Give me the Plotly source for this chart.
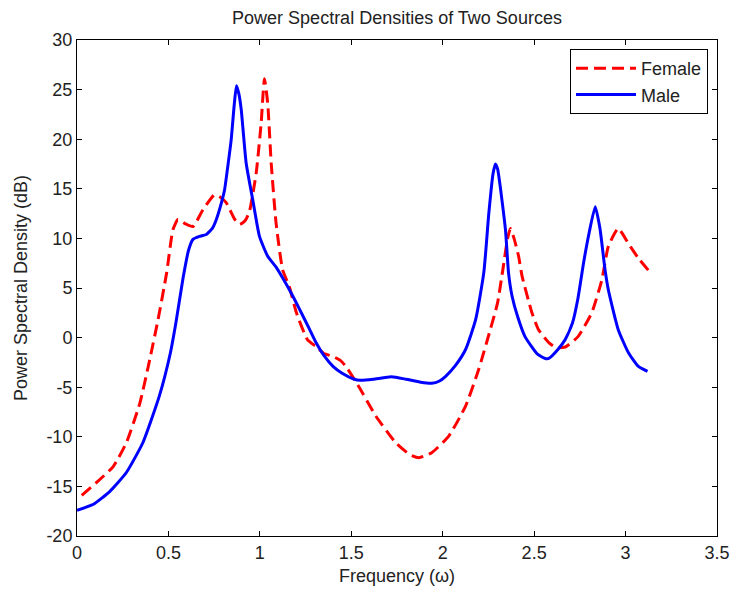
import plotly.graph_objects as go

# ---- data ----
male_freq = [0.00, 0.09, 0.18, 0.27, 0.36, 0.45, 0.51, 0.54, 0.58, 0.61, 0.634, 0.67, 0.707, 0.74, 0.76,
             0.79, 0.807, 0.825, 0.843, 0.86, 0.872, 0.885, 0.898, 0.925, 0.961, 0.998, 1.043, 1.089,
             1.125, 1.18, 1.216, 1.27, 1.307, 1.35, 1.40, 1.45, 1.516, 1.55, 1.62, 1.72, 1.80, 1.88,
             1.94, 1.98, 2.016, 2.07, 2.125, 2.18, 2.225, 2.252, 2.275, 2.288, 2.30, 2.343, 2.36, 2.379,
             2.41, 2.45, 2.52, 2.56, 2.58, 2.63, 2.67, 2.71, 2.74, 2.77, 2.80, 2.834, 2.86, 2.888, 2.906,
             2.96, 3.015, 3.07, 3.12]
male_psd = [-17.4, -16.8, -15.5, -13.6, -10.6, -5.9, -1.6, 1.4, 6.0, 8.8, 9.9, 10.2, 10.4, 11.0, 11.8,
            13.6, 14.9, 17.3, 19.9, 23.5, 25.4, 24.6, 23.0, 17.6, 13.9, 10.2, 8.2, 7.1,
            6.0, 4.2, 2.9, 0.9, -0.5, -1.8, -2.9, -3.6, -4.2, -4.3, -4.2, -3.95, -4.2, -4.5,
            -4.6, -4.4, -3.9, -2.8, -1.2, 1.8, 6.6, 12.5, 16.5, 17.5, 17.0, 10.9, 6.5, 4.2,
            2.1, 0.1, -1.7, -2.1, -2.1, -1.2, -0.2, 1.5, 4.0, 7.5, 10.5, 13.2, 11.0, 6.8, 4.8,
            0.8, -1.5, -2.9, -3.4]

female_freq = [0.026, 0.107, 0.198, 0.27, 0.344, 0.398, 0.443, 0.49, 0.525, 0.552, 0.59, 0.634, 0.689,
               0.752, 0.78, 0.816, 0.86, 0.889, 0.92, 0.943, 0.98, 1.007, 1.025, 1.043, 1.062, 1.089,
               1.125, 1.16, 1.20, 1.26, 1.307, 1.35, 1.40, 1.44, 1.47, 1.54, 1.634, 1.743, 1.82, 1.87,
               1.94, 2.034, 2.125, 2.197, 2.26, 2.30, 2.33, 2.355, 2.37, 2.39, 2.415, 2.434, 2.488,
               2.524, 2.58, 2.62, 2.67, 2.74, 2.815, 2.87, 2.906, 2.96, 3.015, 3.07, 3.124]
female_psd = [-15.9, -14.6, -13.0, -10.6, -6.6, -2.2, 1.8, 6.5, 10.9, 11.9, 11.5, 11.2, 12.9,
              14.4, 14.2, 13.6, 12.0, 11.4, 11.8, 12.7, 16.6, 21.6, 26.1, 23.6, 17.6, 11.5,
              6.8, 5.2, 2.5, -0.2, -0.9, -1.6, -1.9, -2.3, -2.9, -4.9, -7.9, -10.6, -11.8, -12.1,
              -11.6, -9.9, -6.9, -3.2, 0.8, 3.5, 7.0, 10.0, 11.0, 10.0, 8.2, 6.2, 2.5,
              0.8, -0.5, -1.0, -0.95, 0.1, 2.5, 5.8, 9.2, 11.0, 9.5, 8.0, 6.8]

x_ticks = [0, 0.5, 1, 1.5, 2, 2.5, 3, 3.5]
x_tick_labels = ["0", "0.5", "1", "1.5", "2", "2.5", "3", "3.5"]
y_ticks = [-20, -15, -10, -5, 0, 5, 10, 15, 20, 25, 30]
y_tick_labels = ["-20", "-15", "-10", "-5", "0", "5", "10", "15", "20", "25", "30"]

FONT = "Liberation Sans, Arial, sans-serif"
FS = 18
TXT = "#222"

fig = go.Figure()
fig.add_trace(go.Scatter(x=female_freq, y=female_psd, mode="lines", name="Female",
                         line=dict(color="#ff0000", width=3, dash="12px,6px", shape="spline", smoothing=0.5)))
fig.add_trace(go.Scatter(x=male_freq, y=male_psd, mode="lines", name="Male",
                         line=dict(color="#0000ff", width=3, shape="spline", smoothing=0.5)))

axis_common = dict(showline=True, linecolor="black", linewidth=1, mirror="ticks",
                   ticks="inside", ticklen=5, tickcolor="black", showgrid=False, zeroline=False,
                   automargin=False, tickfont=dict(family=FONT, size=FS, color=TXT))

fig.update_layout(
    width=730, height=589,
    margin=dict(l=77, r=13, t=40, b=53, autoexpand=False),
    paper_bgcolor="white", plot_bgcolor="white",
    title=dict(text="Power Spectral Densities of Two Sources", x=397 / 730, xanchor="center",
               y=1 - 18 / 589, yanchor="middle", font=dict(family=FONT, size=FS, color=TXT)),
    xaxis=dict(range=[0, 3.5], tickvals=x_ticks, ticktext=x_tick_labels,
               title=dict(text="Frequency (ω)", font=dict(family=FONT, size=FS, color=TXT), standoff=7),
               **axis_common),
    yaxis=dict(range=[-20, 30], tickvals=y_ticks, ticktext=y_tick_labels,
               title=dict(text="Power Spectral Density (dB)", font=dict(family=FONT, size=FS, color=TXT), standoff=14),
               **axis_common),
    legend=dict(x=(708 - 77) / 640, y=(536 - 49) / 496, xanchor="right", yanchor="top",
                bordercolor="black", borderwidth=1, bgcolor="white",
                font=dict(family=FONT, size=FS, color=TXT), itemwidth=60, tracegroupgap=0),
    showlegend=True,
)

fig.write_html("out.html", config={"displayModeBar": False},
               post_script="document.body.style.margin='0';document.body.style.padding='0';")
